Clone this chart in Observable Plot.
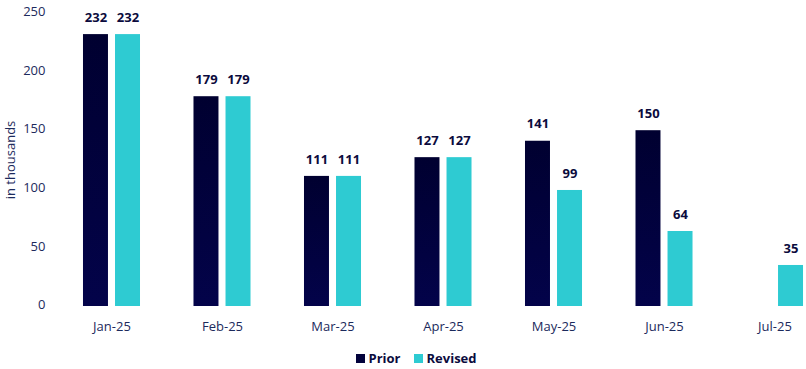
<!DOCTYPE html>
<html>
<head>
<meta charset="utf-8">
<script src="https://cdn.jsdelivr.net/npm/d3@7"></script>
<script src="https://cdn.jsdelivr.net/npm/@observablehq/plot@0.6"></script>
<style>
  body { margin: 0; background: #fff; font-family: "Open Sans", sans-serif; }
  #legend { display: flex; justify-content: center; gap: 13px; margin-top: 9px; padding-left: 26px; font-weight: 700; font-size: 13px; color: #0b0b3d; line-height: 18px; }
  #legend span.item { display: flex; align-items: center; gap: 4px; }
  #legend span.sw { width: 9px; height: 9px; display: inline-block; }
</style>
</head>
<body>
<div id="chart"></div>
<div id="legend"></div>
<script>
const months = ["Jan-25", "Feb-25", "Mar-25", "Apr-25", "May-25", "Jun-25", "Jul-25"];
const series = ["Prior", "Revised"];
const prior = [232, 179, 111, 127, 141, 150, null];
const revised = [232, 179, 111, 127, 99, 64, 35];
const colors = ["#02023c", "#2ecbd2"];
const yTicks = [0, 50, 100, 150, 200, 250];

const data = [];
months.forEach((m, i) => {
  if (prior[i] != null) data.push({month: m, series: "Prior", value: prior[i]});
  if (revised[i] != null) data.push({month: m, series: "Revised", value: revised[i]});
});

const textColor = "#1c2a5c";

const defs = () => {
  const svg = d3.create("svg:defs");
  const g = svg.append("linearGradient").attr("id", "priorGrad").attr("x1", 0).attr("y1", 0).attr("x2", 0).attr("y2", 1);
  g.append("stop").attr("offset", "0%").attr("stop-color", "#000030");
  g.append("stop").attr("offset", "100%").attr("stop-color", "#03034a");
  return svg.node();
};

const chart = Plot.plot({
  width: 806,
  height: 340,
  marginLeft: 80,
  marginRight: 0,
  marginTop: 13,
  marginBottom: 34,
  style: {fontFamily: "Open Sans, sans-serif", fontSize: "13px", color: textColor, background: "#fff"},
  fx: {domain: months, paddingInner: 0.484, paddingOuter: 0.027, round: false, label: null},
  x: {domain: series, paddingInner: 0.22, paddingOuter: 0, round: false, axis: null},
  y: {domain: [0, 250], ticks: yTicks},
  marks: [
    defs,
    Plot.axisY({ticks: yTicks, tickSize: 0, tickPadding: 38, dy: -1.5, label: "in thousands", labelAnchor: "center", labelArrow: "none", labelOffset: 78, fill: textColor}),
    Plot.axisFx({anchor: "bottom", tickSize: 0, tickPadding: 15, label: null, fill: textColor}),
    Plot.barY(data.filter(d => d.series === "Prior"), {fx: "month", x: "series", y: "value", fill: "url(#priorGrad)"}),
    Plot.barY(data.filter(d => d.series === "Revised"), {fx: "month", x: "series", y: "value", fill: colors[1]}),
    Plot.text(data, {fx: "month", x: "series", y: "value", text: d => String(d.value), dy: -17, fontWeight: 700, fontSize: 13, fill: "#0b0b3d"})
  ]
});
document.getElementById("chart").appendChild(chart);

const legend = document.getElementById("legend");
series.forEach((s, i) => {
  const it = document.createElement("span");
  it.className = "item";
  it.innerHTML = `<span class="sw" style="background:${colors[i]}"></span><span>${s}</span>`;
  legend.appendChild(it);
});
</script>
</body>
</html>
